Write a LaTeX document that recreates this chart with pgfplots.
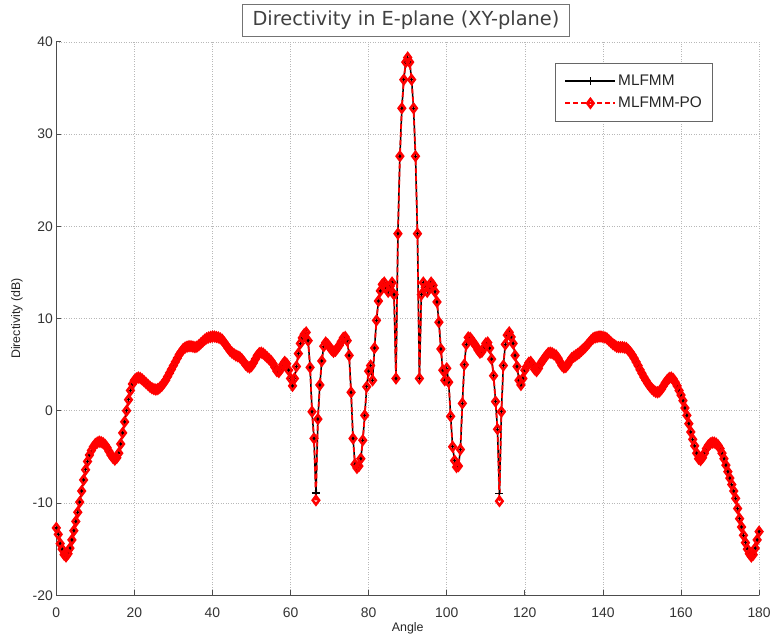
\documentclass[border=0pt]{standalone}
\usepackage{pgfplots}
\pgfplotsset{compat=1.18}
\usepackage{pgfplotstable}
\usepackage{fontspec}
\setmainfont{Liberation Sans}
\newfontfamily\titlefont{DejaVu Sans}

% angle, MLFMM, MLFMM-PO (0.5 deg steps)
\pgfplotstableread{
x a b
0 -12.7 -12.7
0.5 -13.4 -13.4
1 -14.4 -14.4
1.5 -15.0 -15.0
2 -15.6 -15.6
2.5 -15.8 -15.8
3 -15.5 -15.5
3.5 -14.9 -14.9
4 -14.0 -14.0
4.5 -13.0 -13.0
5 -12.0 -12.0
5.5 -11.0 -11.0
6 -9.9 -9.9
6.5 -8.7 -8.7
7 -7.5 -7.5
7.5 -6.4 -6.4
8 -5.5 -5.5
8.5 -4.8 -4.8
9 -4.3 -4.3
9.5 -3.9 -3.9
10 -3.6 -3.6
10.5 -3.45 -3.45
11 -3.35 -3.35
11.5 -3.4 -3.4
12 -3.5 -3.5
12.5 -3.7 -3.7
13 -4.0 -4.0
13.5 -4.4 -4.4
14 -4.8 -4.8
14.5 -5.1 -5.1
15 -5.3 -5.3
15.5 -5.1 -5.1
16 -4.6 -4.6
16.5 -3.6 -3.6
17 -2.4 -2.4
17.5 -1.2 -1.2
18 0.0 0.0
18.5 1.2 1.2
19 2.2 2.2
19.5 2.9 2.9
20 3.3 3.3
20.5 3.5 3.5
21 3.6 3.6
21.5 3.55 3.55
22 3.4 3.4
22.5 3.2 3.2
23 3.0 3.0
23.5 2.8 2.8
24 2.6 2.6
24.5 2.45 2.45
25 2.35 2.35
25.5 2.3 2.3
26 2.35 2.35
26.5 2.5 2.5
27 2.7 2.7
27.5 3.0 3.0
28 3.3 3.3
28.5 3.7 3.7
29 4.1 4.1
29.5 4.5 4.5
30 4.9 4.9
30.5 5.3 5.3
31 5.7 5.7
31.5 6.1 6.1
32 6.4 6.4
32.5 6.7 6.7
33 6.85 6.85
33.5 6.95 6.95
34 7.0 7.0
34.5 7.0 7.0
35 6.95 6.95
35.5 6.9 6.9
36 6.95 6.95
36.5 7.1 7.1
37 7.3 7.3
37.5 7.5 7.5
38 7.7 7.7
38.5 7.85 7.85
39 7.95 7.95
39.5 8.0 8.0
40 8.05 8.05
40.5 8.05 8.05
41 8.0 8.0
41.5 7.95 7.95
42 7.85 7.85
42.5 7.7 7.7
43 7.4 7.4
43.5 7.1 7.1
44 6.8 6.8
44.5 6.5 6.5
45 6.3 6.3
45.5 6.15 6.15
46 6.0 6.0
46.5 5.9 5.9
47 5.8 5.8
47.5 5.6 5.6
48 5.3 5.3
48.5 5.0 5.0
49 4.8 4.8
49.5 4.7 4.7
50 4.85 4.85
50.5 5.2 5.2
51 5.6 5.6
51.5 6.0 6.0
52 6.25 6.25
52.5 6.3 6.3
53 6.2 6.2
53.5 6.0 6.0
54 5.8 5.8
54.5 5.6 5.6
55 5.4 5.4
55.5 5.1 5.1
56 4.7 4.7
56.5 4.3 4.3
57 4.2 4.2
57.5 4.5 4.5
58 5.0 5.0
58.5 5.3 5.3
59 5.1 5.1
59.5 4.4 4.4
60 3.5 3.5
60.5 2.7 2.7
61 3.5 3.5
61.5 4.8 4.8
62 6.2 6.2
62.5 7.3 7.3
63 7.9 7.9
63.5 8.3 8.3
64 8.5 8.5
64.5 7.6 7.6
65 4.7 4.7
65.5 -0.1 -0.1
66 -3.0 -3.0
66.5 -8.9 -9.7
67 -0.9 -0.9
67.5 2.8 2.8
68 5.4 5.4
68.5 7.0 7.0
69 7.4 7.4
69.5 7.2 7.2
70 6.9 6.9
70.5 6.6 6.6
71 6.4 6.4
71.5 6.5 6.5
72 6.8 6.8
72.5 7.1 7.1
73 7.5 7.5
73.5 7.9 7.9
74 8.0 8.0
74.5 7.6 7.6
75 6.0 6.0
75.5 2.0 2.0
76 -3.0 -3.0
76.5 -5.8 -5.8
77 -6.2 -6.2
77.5 -6.0 -6.0
78 -5.2 -5.2
78.5 -3.2 -3.2
79 -0.5 -0.5
79.5 2.6 2.6
80 4.3 4.3
80.5 4.9 4.9
81 3.3 3.3
81.5 6.8 6.8
82 9.8 9.8
82.5 11.9 11.9
83 13.0 13.0
83.5 13.7 13.7
84 13.9 13.9
84.5 13.3 13.3
85 12.9 12.9
85.5 13.5 13.5
86 13.9 13.9
86.5 12.6 12.6
87 3.5 3.5
87.5 19.2 19.2
88 27.6 27.6
88.5 32.8 32.8
89 35.9 35.9
89.5 37.8 37.8
90 38.3 38.3
90.5 37.8 37.8
91 35.9 35.9
91.5 32.8 32.8
92 27.6 27.6
92.5 19.2 19.2
93 3.5 3.5
93.5 12.6 12.6
94 13.9 13.9
94.5 13.4 13.4
95 12.9 12.9
95.5 13.3 13.3
96 13.9 13.9
96.5 13.6 13.6
97 12.9 12.9
97.5 11.8 11.8
98 9.6 9.6
98.5 6.7 6.7
99 4.4 4.4
99.5 3.3 3.3
100 4.6 4.6
100.5 3.1 3.1
101 -0.6 -0.6
101.5 -3.9 -3.9
102 -5.4 -5.4
102.5 -6.1 -6.1
103 -6.0 -6.0
103.5 -4.2 -4.2
104 0.8 0.8
104.5 5.0 5.0
105 7.2 7.2
105.5 7.95 7.95
106 7.9 7.9
106.5 7.6 7.6
107 7.3 7.3
107.5 7.0 7.0
108 6.6 6.6
108.5 6.3 6.3
109 6.4 6.4
109.5 6.8 6.8
110 7.3 7.3
110.5 7.4 7.4
111 6.8 6.8
111.5 5.6 5.6
112 3.8 3.8
112.5 1.0 1.0
113 -2.0 -2.0
113.5 -9.0 -9.8
114 -0.1 -0.1
114.5 4.9 4.9
115 7.2 7.2
115.5 8.2 8.2
116 8.5 8.5
116.5 8.0 8.0
117 7.3 7.3
117.5 6.0 6.0
118 4.8 4.8
118.5 3.3 3.3
119 2.8 2.8
119.5 3.5 3.5
120 4.4 4.4
120.5 4.8 4.8
121 5.2 5.2
121.5 5.3 5.3
122 5.0 5.0
122.5 4.5 4.5
123 4.3 4.3
123.5 4.6 4.6
124 5.1 5.1
124.5 5.4 5.4
125 5.7 5.7
125.5 6.0 6.0
126 6.25 6.25
126.5 6.3 6.3
127 6.25 6.25
127.5 6.1 6.1
128 6.0 6.0
128.5 5.7 5.7
129 5.3 5.3
129.5 4.9 4.9
130 4.7 4.7
130.5 4.75 4.75
131 5.0 5.0
131.5 5.4 5.4
132 5.7 5.7
132.5 5.85 5.85
133 6.0 6.0
133.5 6.15 6.15
134 6.3 6.3
134.5 6.5 6.5
135 6.7 6.7
135.5 6.9 6.9
136 7.15 7.15
136.5 7.4 7.4
137 7.65 7.65
137.5 7.85 7.85
138 7.95 7.95
138.5 8.0 8.0
139 8.05 8.05
139.5 8.05 8.05
140 8.0 8.0
140.5 7.95 7.95
141 7.85 7.85
141.5 7.65 7.65
142 7.45 7.45
142.5 7.25 7.25
143 7.1 7.1
143.5 6.95 6.95
144 6.9 6.9
144.5 6.9 6.9
145 6.9 6.9
145.5 6.85 6.85
146 6.8 6.8
146.5 6.6 6.6
147 6.35 6.35
147.5 6.05 6.05
148 5.7 5.7
148.5 5.3 5.3
149 4.9 4.9
149.5 4.45 4.45
150 4.05 4.05
150.5 3.65 3.65
151 3.3 3.3
151.5 2.95 2.95
152 2.65 2.65
152.5 2.4 2.4
153 2.2 2.2
153.5 2.05 2.05
154 2.0 2.0
154.5 2.1 2.1
155 2.35 2.35
155.5 2.7 2.7
156 3.05 3.05
156.5 3.35 3.35
157 3.55 3.55
157.5 3.6 3.6
158 3.45 3.45
158.5 3.1 3.1
159 2.7 2.7
159.5 2.2 2.2
160 1.7 1.7
160.5 1.1 1.1
161 0.3 0.3
161.5 -0.5 -0.5
162 -1.4 -1.4
162.5 -2.3 -2.3
163 -3.1 -3.1
163.5 -3.8 -3.8
164 -4.6 -4.6
164.5 -5.2 -5.2
165 -5.35 -5.35
165.5 -5.1 -5.1
166 -4.6 -4.6
166.5 -4.1 -4.1
167 -3.75 -3.75
167.5 -3.55 -3.55
168 -3.45 -3.45
168.5 -3.45 -3.45
169 -3.55 -3.55
169.5 -3.75 -3.75
170 -4.1 -4.1
170.5 -4.6 -4.6
171 -5.2 -5.2
171.5 -5.9 -5.9
172 -6.6 -6.6
172.5 -7.3 -7.3
173 -8.0 -8.0
173.5 -8.7 -8.7
174 -9.5 -9.5
174.5 -10.6 -10.6
175 -11.7 -11.7
175.5 -12.6 -12.6
176 -13.5 -13.5
176.5 -14.3 -14.3
177 -15.0 -15.0
177.5 -15.5 -15.5
178 -15.8 -15.8
178.5 -15.6 -15.6
179 -14.9 -14.9
179.5 -14.0 -14.0
180 -13.1 -13.1
}\dirdata

\begin{document}
\begin{tikzpicture}
\begin{axis}[
  at={(0,0)}, anchor=south west,
  scale only axis, width=705.5bp, height=555.5bp,
  xmin=0, xmax=180, ymin=-20, ymax=40,
  xtick={0,20,...,180}, ytick={-20,-10,...,40},
  xticklabels={0,20,40,60,80,100,120,140,160,180},
  yticklabels={-20,-10,0,10,20,30,40},
  axis x line*=bottom, axis y line*=left,
  axis line style={draw=black!70, line width=0.9bp},
  tick align=inside, major tick length=5bp,
  tick style={draw=black!70, line width=0.8bp},
  grid=major,
  major grid style={draw=black!28, line width=0.6bp, dash pattern=on 1bp off 1.5bp},
  ticklabel style={font=\fontsize{14}{16}\selectfont, text=black!80},
  xticklabel style={anchor=center, yshift=-17.5bp},
  clip=false,
  title={Directivity in E-plane (XY-plane)},
  title style={at={(0.5,1)}, anchor=center, yshift=15.5bp, xshift=-1.75bp,
    draw=black!55, line width=0.8bp, fill=white, text=black!75,
    font=\titlefont\fontsize{19.5}{22}\selectfont,
    minimum height=33bp, minimum width=329bp, inner sep=0pt},
  xlabel={Angle},
  ylabel={Directivity (dB)},
  label style={font=\fontsize{12.5}{14}\selectfont, text=black!85},
  xlabel style={at={(axis description cs:0.5,-0.0603)}, anchor=center},
  ylabel style={at={(axis description cs:-0.056,0.5)}, anchor=center},
  legend style={at={(0.9348,0.9622)}, anchor=north east,
    draw=black!60, line width=0.8bp, fill=white,
    font=\fontsize{15.5}{18}\selectfont, text=black!85,
    inner xsep=9bp, inner ysep=10bp, row sep=6bp},
  legend cell align=left,
  legend image code/.code={\draw[mark repeat=2,mark phase=2,#1] plot coordinates {(0bp,0bp) (25bp,0bp) (50bp,0bp)};},
]
\addplot[black, line width=1.5bp, mark=+, mark size=4bp, mark options={solid, line width=1.4bp}]
  table[x=x, y=a] {\dirdata};
\addlegendentry{MLFMM}
\addplot[red, line width=1.8bp, dash pattern=on 5bp off 3bp, mark=diamond, mark size=4.3bp,
  mark options={solid, line width=2.5bp}]
  table[x=x, y=b] {\dirdata};
\addlegendentry{MLFMM-PO}
\end{axis}
\path[use as bounding box] (-56.5bp,-48.5bp) rectangle (717.5bp,597.5bp);
\end{tikzpicture}
\end{document}
